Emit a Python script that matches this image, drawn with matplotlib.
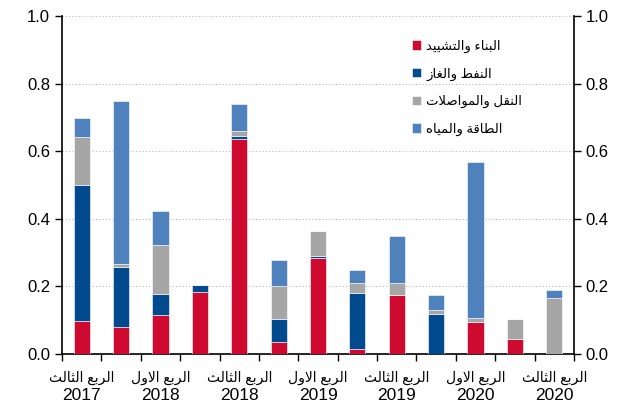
import numpy as np
import matplotlib
matplotlib.use('Agg')
from matplotlib import pyplot as plt
from matplotlib import transforms

# quarters (Arabic label, year) - one bar per quarter
quarters = ['الربع الثالث', 'الربع الرابع', 'الربع الاول', 'الربع الثاني'] * 4
years = ['2017', '2017', '2018', '2018', '2018', '2018', '2019', '2019',
         '2019', '2019', '2020', '2020', '2020']
quarters = quarters[:13]

# stacked values
construction = [0.097, 0.080, 0.116, 0.182, 0.637, 0.034, 0.285, 0.014, 0.175, 0.000, 0.096, 0.044, 0.000]
oil_gas      = [0.403, 0.176, 0.060, 0.022, 0.008, 0.069, 0.005, 0.167, 0.000, 0.118, 0.000, 0.000, 0.000]
transport    = [0.141, 0.011, 0.147, 0.000, 0.015, 0.097, 0.074, 0.029, 0.035, 0.011, 0.010, 0.059, 0.167]
energy_water = [0.057, 0.481, 0.099, 0.000, 0.081, 0.079, 0.000, 0.039, 0.138, 0.045, 0.461, 0.000, 0.023]

series_names = ['البناء والتشييد', 'النفط والغاز', 'النقل والمواصلات', 'الطاقة والمياه']
colors = ['#CE0A31', '#004A8D', '#A6A6A6', '#4F81BD']

# minimal arabic shaping: (isolated, final, initial, medial)
FORMS = {
    'ا': ('\uFE8D', '\uFE8E', None, None),
    'ب': ('\uFE8F', '\uFE90', '\uFE91', '\uFE92'),
    'ة': ('\uFE93', '\uFE94', None, None),
    'ت': ('\uFE95', '\uFE96', '\uFE97', '\uFE98'),
    'ث': ('\uFE99', '\uFE9A', '\uFE9B', '\uFE9C'),
    'د': ('\uFEA9', '\uFEAA', None, None),
    'ر': ('\uFEAD', '\uFEAE', None, None),
    'ز': ('\uFEAF', '\uFEB0', None, None),
    'ش': ('\uFEB5', '\uFEB6', '\uFEB7', '\uFEB8'),
    'ص': ('\uFEB9', '\uFEBA', '\uFEBB', '\uFEBC'),
    'ط': ('\uFEC1', '\uFEC2', '\uFEC3', '\uFEC4'),
    'ع': ('\uFEC9', '\uFECA', '\uFECB', '\uFECC'),
    'غ': ('\uFECD', '\uFECE', '\uFECF', '\uFED0'),
    'ف': ('\uFED1', '\uFED2', '\uFED3', '\uFED4'),
    'ق': ('\uFED5', '\uFED6', '\uFED7', '\uFED8'),
    'ل': ('\uFEDD', '\uFEDE', '\uFEDF', '\uFEE0'),
    'م': ('\uFEE1', '\uFEE2', '\uFEE3', '\uFEE4'),
    'ن': ('\uFEE5', '\uFEE6', '\uFEE7', '\uFEE8'),
    'ه': ('\uFEE9', '\uFEEA', '\uFEEB', '\uFEEC'),
    'و': ('\uFEED', '\uFEEE', None, None),
    'ي': ('\uFEF1', '\uFEF2', '\uFEF3', '\uFEF4'),
    'ء': ('\uFE80', None, None, None),
}


def shape(text):
    out = []
    i = 0
    n = len(text)
    while i < n:
        c = text[i]
        if c not in FORMS:
            out.append(c)
            i += 1
            continue
        p = text[i - 1] if i > 0 else ''
        prev_joins = p in FORMS and FORMS[p][2] is not None
        if c == 'ل' and i + 1 < n and text[i + 1] == 'ا':
            out.append('\uFEFC' if prev_joins else '\uFEFB')
            i += 2
            continue
        nx = text[i + 1] if i + 1 < n else ''
        next_joins = FORMS[c][2] is not None and nx in FORMS and FORMS[nx][1] is not None
        if prev_joins and next_joins:
            out.append(FORMS[c][3])
        elif prev_joins:
            out.append(FORMS[c][1])
        elif next_joins:
            out.append(FORMS[c][2])
        else:
            out.append(FORMS[c][0])
        i += 1
    return ''.join(out)[::-1]


plt.rcParams['font.family'] = ['Liberation Sans', 'DejaVu Sans']

fig = plt.figure(figsize=(6.29, 4.05), dpi=100)
ax = fig.add_axes([0.0986, 0.126, 0.8140, 0.8345])

x = np.arange(len(years))
bottom = np.zeros(len(years))
for vals, name, col in zip([construction, oil_gas, transport, energy_water], series_names, colors):
    ax.bar(x, vals, 0.41, bottom=bottom, color=col, edgecolor='white', linewidth=0.4,
           label=shape(name), zorder=3)
    bottom += np.array(vals)

ax.set_xlim(-0.5, len(years) - 0.5)
ax.set_ylim(0, 1.0)
ax.set_yticks(np.arange(0, 1.01, 0.2))
ax.set_yticklabels(['%.1f' % v for v in np.arange(0, 1.01, 0.2)])
ax.yaxis.grid(True, linestyle=(0, (1, 2)), color='#BBBBBB', linewidth=0.8, zorder=0)

ax.set_xticks(np.arange(-0.5, len(years), 1.0))
ax.set_xticklabels([])
ax.tick_params(axis='x', direction='out', length=5, width=1)
ax.tick_params(axis='y', direction='out', length=5, width=1, labelsize=12,
               left=True, right=True, labelleft=True, labelright=True)

# two-row category labels under every other bar
trans = transforms.blended_transform_factory(ax.transData, fig.transFigure)
for i in x[::2]:
    ax.text(i, 1 - 378 / 405, shape(quarters[i]), transform=trans, ha='center', va='center',
            fontsize=10)
    ax.text(i, 1 - 396 / 405, years[i], transform=trans, ha='center', va='center',
            fontsize=12.5)

ax.spines['top'].set_visible(False)
for s in ['left', 'right', 'bottom']:
    ax.spines[s].set_linewidth(1.2)

ax.legend(loc='upper left', bbox_to_anchor=(0.66, 0.965), frameon=False, fontsize=9.5,
          handlelength=0.7, handleheight=0.7, labelspacing=1.1, handletextpad=0.4)

plt.savefig('out.png', dpi=100)
